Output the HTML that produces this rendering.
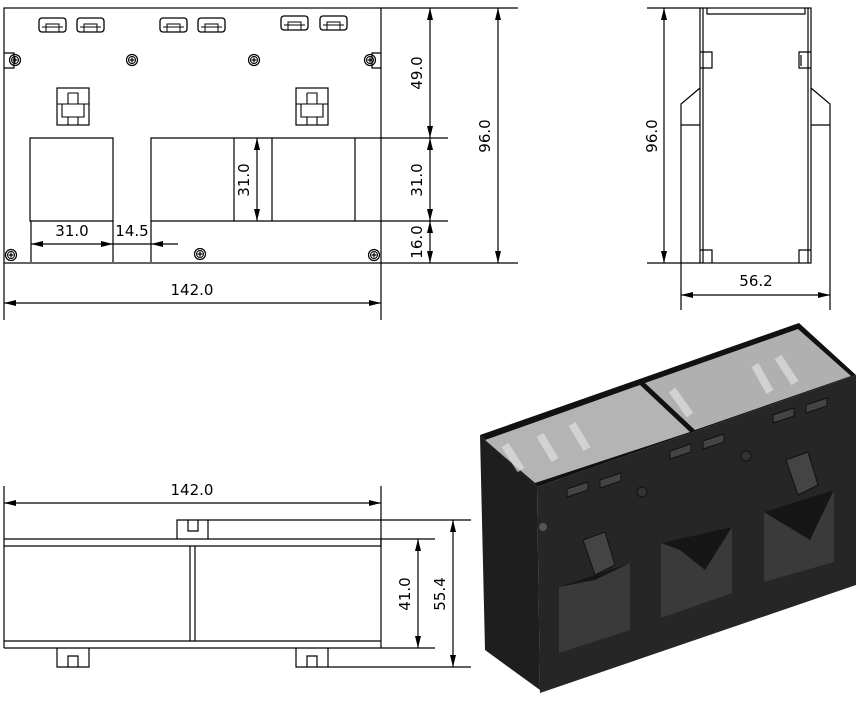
<!DOCTYPE html>
<html><head><meta charset="utf-8"><style>
html,body{margin:0;padding:0;background:#fff;}
svg{display:block;}
text{font-family:"DejaVu Sans","Liberation Sans",sans-serif;font-size:15px;fill:#000;}
</style></head><body>
<svg width="866" height="702" viewBox="0 0 866 702" xmlns="http://www.w3.org/2000/svg">
<defs>
<marker id="a" markerWidth="12" markerHeight="6" refX="12" refY="3" orient="auto-start-reverse" markerUnits="userSpaceOnUse"><path d="M0,0 L12,3 L0,6 Z" fill="#000"/></marker>
<g id="slot"><rect x="0" y="0" width="27" height="14" rx="3" fill="none" stroke="#000" stroke-width="1.3"/><path d="M7,14 V6 H20 V14 M3,9 H24" fill="none" stroke="#000" stroke-width="1"/></g>
<g id="scr"><circle r="5.5" fill="none" stroke="#000" stroke-width="1.2"/><circle r="3.5" fill="none" stroke="#000"/><path d="M-2.5,0 H2.5 M0,-2.5 V2.5" stroke="#000" stroke-width="1.2"/></g>
<g id="term"><rect x="0" y="0" width="32" height="37" fill="none" stroke="#000" stroke-width="1.2"/><path d="M0,16 H32 M11,5 H21 V16 M11,5 V16 M5,16 V29 H27 V16 M11,29 V37 M21,29 V37" fill="none" stroke="#000" stroke-width="1.1"/></g>
</defs>
<g fill="none" stroke="#000" stroke-width="1.2">
<!-- FRONT VIEW -->
<rect x="4" y="8" width="377" height="255"/>
<path d="M381,8 H518 M381,263 H518"/>
<path d="M30,138 H113 V221 H30 Z M151,138 H234 V221 H151 Z M234,138 H272 M234,221 H272 M272,138 H355 V221 H272 Z M355,138 H448 M355,221 H448"/>
<path d="M31,221 V262 M113,221 V262 M151,221 V262"/>
<path d="M4,263 V320 M381,263 V320"/>
<path d="M4,53 H14 V68 H4 M381,53 H372 V68 H381"/>
</g>
<use href="#slot" x="39" y="18"/><use href="#slot" x="77" y="18"/>
<use href="#slot" x="160" y="18"/><use href="#slot" x="198" y="18"/>
<use href="#slot" x="281" y="16"/><use href="#slot" x="320" y="16"/>
<use href="#scr" x="15" y="60"/><use href="#scr" x="132" y="60"/><use href="#scr" x="254" y="60"/><use href="#scr" x="370" y="60"/>
<use href="#scr" x="11" y="255"/><use href="#scr" x="200" y="254"/><use href="#scr" x="374" y="255"/>
<use href="#term" x="57" y="88"/><use href="#term" x="296" y="88"/>
<g stroke="#000" stroke-width="1.2" fill="none">
<line x1="257" y1="138" x2="257" y2="221" marker-start="url(#a)" marker-end="url(#a)"/>
<line x1="430" y1="8" x2="430" y2="138" marker-start="url(#a)" marker-end="url(#a)"/>
<line x1="430" y1="138" x2="430" y2="221" marker-start="url(#a)" marker-end="url(#a)"/>
<line x1="430" y1="221" x2="430" y2="263" marker-start="url(#a)" marker-end="url(#a)"/>
<line x1="498" y1="8" x2="498" y2="263" marker-start="url(#a)" marker-end="url(#a)"/>
<line x1="31" y1="244" x2="113" y2="244" marker-start="url(#a)" marker-end="url(#a)"/>
<line x1="113" y1="244" x2="151" y2="244"/>
<line x1="178" y1="244" x2="151" y2="244" marker-end="url(#a)"/>
<line x1="4" y1="303" x2="381" y2="303" marker-start="url(#a)" marker-end="url(#a)"/>
</g>
<text x="72" y="236" text-anchor="middle">31.0</text>
<text x="132" y="236" text-anchor="middle">14.5</text>
<text x="192" y="295" text-anchor="middle">142.0</text>
<text transform="translate(249,180) rotate(-90)" text-anchor="middle">31.0</text>
<text transform="translate(422,73) rotate(-90)" text-anchor="middle">49.0</text>
<text transform="translate(422,180) rotate(-90)" text-anchor="middle">31.0</text>
<text transform="translate(422,242) rotate(-90)" text-anchor="middle">16.0</text>
<text transform="translate(490,136) rotate(-90)" text-anchor="middle">96.0</text>

<!-- SIDE VIEW -->
<g fill="none" stroke="#000" stroke-width="1.2">
<rect x="700" y="8" width="111" height="255"/>
<path d="M703,8 V263 M808,8 V263"/>
<path d="M707,8 V14 H805 V8"/>
<path d="M700,52 H712 V68 H700 M811,52 H799 V68 H811 M700,250 H712 V263 M811,250 H799 V263 M801,55 V66"/>
<path d="M700,88 L681,104 V125 H700 M811,88 L830,104 V125 H811"/>
<path d="M681,125 V310 M830,125 V310 M647,8 H700 M647,263 H700"/>
<line x1="664" y1="8" x2="664" y2="263" marker-start="url(#a)" marker-end="url(#a)"/>
<line x1="681" y1="295" x2="830" y2="295" marker-start="url(#a)" marker-end="url(#a)"/>
</g>
<text transform="translate(657,136) rotate(-90)" text-anchor="middle">96.0</text>
<text x="756" y="286" text-anchor="middle">56.2</text>

<!-- BOTTOM VIEW -->
<g fill="none" stroke="#000" stroke-width="1.2">
<path d="M4,486 V539 M381,486 V546"/>
<line x1="4" y1="503" x2="381" y2="503" marker-start="url(#a)" marker-end="url(#a)"/>
<path d="M177,539 V520 H208 V539 M188,520 V531 H198 V520 M208,520 H471"/>
<path d="M4,539 H435 M4,546 H381 M4,641 H381 M4,648 H435 M4,539 V648 M381,539 V648"/>
<path d="M190,546 V641 M195,546 V641"/>
<path d="M57,648 V667 H89 V648 M68,667 V656 H78 V667"/>
<path d="M296,648 V667 H328 V648 M307,667 V656 H317 V667 M328,667 H471"/>
<line x1="418" y1="539" x2="418" y2="648" marker-start="url(#a)" marker-end="url(#a)"/>
<line x1="453" y1="520" x2="453" y2="667" marker-start="url(#a)" marker-end="url(#a)"/>
</g>
<text x="192" y="495" text-anchor="middle">142.0</text>
<text transform="translate(410,594) rotate(-90)" text-anchor="middle">41.0</text>
<text transform="translate(445,594) rotate(-90)" text-anchor="middle">55.4</text>

<!-- 3D VIEW -->
<polygon points="480,435 537,487 540,690 485,650" fill="#1e1e1e"/>
<polygon points="537,487 856,375 856,585 540,693" fill="#262626"/>
<polygon points="480,435 799,323 856,375 537,487" fill="#111"/>
<polygon points="485,440 640,385 690,432 535,483" fill="#b4b4b4"/>
<polygon points="645,383 798,329 851,376 695,430" fill="#b0b0b0"/>
<path d="M521,470 L505,445 M555,460 L540,435 M587,449 L572,424 M690,415 L672,390 M770,392 L755,365 M795,383 L778,357" stroke="#e0e0e0" stroke-width="8" opacity="0.7"/>
<polygon points="559,587 630,563 630,630 559,653" fill="#3a3a3a"/>
<polygon points="559,587 630,563 595,580" fill="#161616"/>
<polygon points="661,543 732,527 732,593 661,618" fill="#3a3a3a"/>
<polygon points="661,543 732,527 705,570 680,550" fill="#161616"/>
<polygon points="764,512 834,490 834,562 764,582" fill="#3a3a3a"/>
<polygon points="764,512 834,490 810,540" fill="#161616"/>
<g fill="#444" stroke="#111">
<polygon points="583,540 605,532 615,565 595,575"/>
<polygon points="786,460 808,452 818,485 798,495"/>
<polygon points="567,489 588,482 588,490 567,497"/>
<polygon points="600,480 621,473 621,481 600,488"/>
<polygon points="670,451 691,444 691,452 670,459"/>
<polygon points="703,441 724,434 724,442 703,449"/>
<polygon points="773,415 794,408 794,416 773,423"/>
<polygon points="806,405 827,398 827,406 806,413"/>
</g>
<circle cx="642" cy="492" r="5" fill="#333" stroke="#111"/>
<circle cx="746" cy="456" r="5" fill="#333" stroke="#111"/>
<circle cx="543" cy="527" r="4" fill="#555"/>
</svg>
</body></html>
